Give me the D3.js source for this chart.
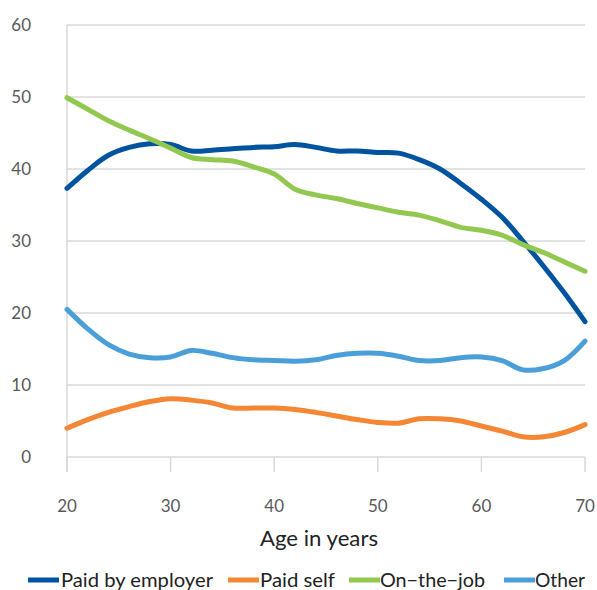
<!DOCTYPE html>
<html><head><meta charset="utf-8">
<script src="https://cdn.jsdelivr.net/npm/d3@7"></script>
<style>body{margin:0;background:#fff}svg{display:block}text{font-family:Lato,"Noto Sans",sans-serif}</style>
</head><body><svg id="c" width="597" height="590"></svg>
<script>
const ages = [20,22,24,26,28,30,32,34,36,38,40,42,44,46,48,50,52,54,56,58,60,62,64,66,68,70];
const paidByEmployer = [37.3,39.8,41.9,43.0,43.5,43.4,42.5,42.6,42.8,43.0,43.1,43.4,43.0,42.5,42.5,42.3,42.2,41.3,40.0,38.0,35.8,33.3,30.0,26.5,22.8,18.8];
const paidSelf = [4.0,5.2,6.2,7.0,7.7,8.1,7.9,7.5,6.8,6.8,6.8,6.6,6.2,5.7,5.2,4.8,4.7,5.3,5.3,5.0,4.3,3.6,2.8,2.8,3.4,4.5];
const onTheJob = [49.9,48.3,46.7,45.4,44.2,42.9,41.6,41.3,41.1,40.3,39.3,37.2,36.4,35.9,35.2,34.6,34.0,33.6,32.8,31.9,31.5,30.8,29.5,28.4,27.1,25.8];
const other = [20.5,17.8,15.6,14.3,13.8,13.9,14.8,14.4,13.8,13.5,13.4,13.3,13.5,14.1,14.4,14.4,14.0,13.4,13.4,13.8,13.9,13.4,12.1,12.3,13.4,16.1];
const seriesNames = ["Paid by employer","Paid self","On\u2212the\u2212job","Other"];
const seriesColors = ["#00539F","#F58634","#92C84F","#4A9FD8"];
const xTicks = [20,30,40,50,60,70];
const yTicks = [0,10,20,30,40,50,60];

const series = [paidByEmployer, paidSelf, onTheJob, other];
const svg = d3.select("#c");
const x = d3.scaleLinear().domain([20,70]).range([67,585]);
const y = d3.scaleLinear().domain([0,60]).range([457,25]);
const grey = "#D9D9D9", txt = "#595959";

svg.append("g").selectAll("line").data(yTicks).join("line")
  .attr("x1",67).attr("x2",585).attr("y1",d=>y(d)).attr("y2",d=>y(d))
  .attr("stroke",grey).attr("stroke-width",1.5);
svg.append("line").attr("x1",67).attr("x2",67).attr("y1",25).attr("y2",472).attr("stroke",grey).attr("stroke-width",1.5);
svg.append("g").selectAll("line").data(xTicks).join("line")
  .attr("x1",d=>x(d)).attr("x2",d=>x(d)).attr("y1",457).attr("y2",472)
  .attr("stroke",grey).attr("stroke-width",1.5);
svg.append("g").selectAll("text").data(yTicks).join("text")
  .attr("x",31).attr("y",d=>y(d)+6).attr("text-anchor","end")
  .attr("font-size",17).attr("fill",txt).text(d=>d);
svg.append("g").selectAll("text").data(xTicks).join("text")
  .attr("x",d=>x(d)).attr("y",512).attr("text-anchor","middle")
  .attr("font-size",17).attr("fill",txt).text(d=>d);
svg.append("text").attr("x",260).attr("y",546)
  .attr("font-size",21).attr("fill","#222").attr("textLength",118).attr("lengthAdjust","spacingAndGlyphs").text("Age in years");

const line = d3.line().x((d,i)=>x(ages[i])).y(d=>y(d)).curve(d3.curveCatmullRom.alpha(0.5));
series.forEach((s,k)=>{
  svg.append("path").attr("d",line(s)).attr("fill","none")
    .attr("stroke",seriesColors[k]).attr("stroke-width",5).attr("stroke-linecap","round");
});

const sx = [28,228,349,504];
const tx = [61,260,380,535];
const tw = [152,75,105,50];
const lg = svg.append("g");
seriesNames.forEach((n,k)=>{
  lg.append("line").attr("x1",sx[k]).attr("x2",sx[k]+31).attr("y1",580).attr("y2",580)
    .attr("stroke",seriesColors[k]).attr("stroke-width",5);
  lg.append("text").attr("x",tx[k]).attr("y",587).attr("font-size",19).attr("fill","#222")
    .attr("textLength",tw[k]).attr("lengthAdjust","spacingAndGlyphs").text(n);
});
</script></body></html>
